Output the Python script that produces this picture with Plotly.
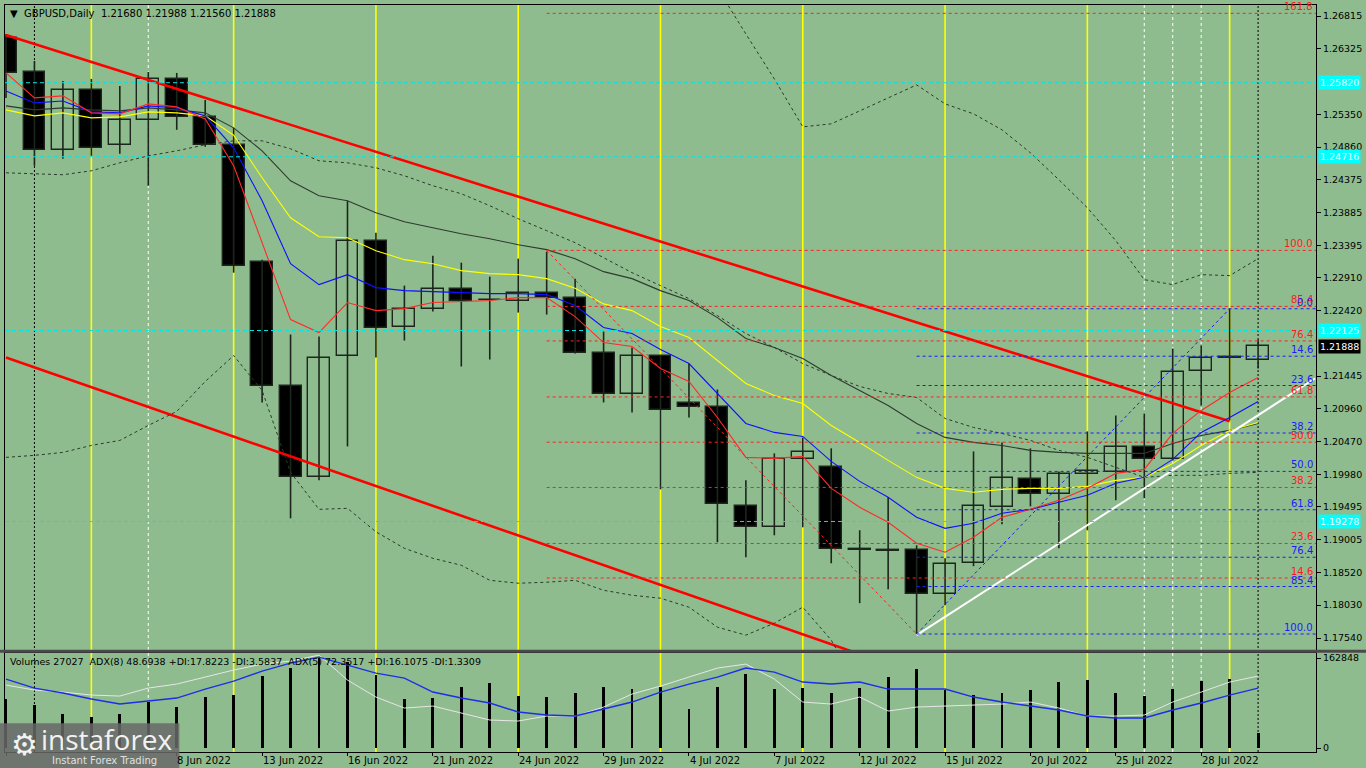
import plotly.graph_objects as go

# ---------------- data ----------------
dates = ["31 May 2022","1 Jun 2022","2 Jun 2022","3 Jun 2022","6 Jun 2022","7 Jun 2022","8 Jun 2022",
         "9 Jun 2022","10 Jun 2022","13 Jun 2022","14 Jun 2022","15 Jun 2022","16 Jun 2022","17 Jun 2022",
         "20 Jun 2022","21 Jun 2022","22 Jun 2022","23 Jun 2022","24 Jun 2022","27 Jun 2022","28 Jun 2022",
         "29 Jun 2022","30 Jun 2022","1 Jul 2022","4 Jul 2022","5 Jul 2022","6 Jul 2022","7 Jul 2022",
         "8 Jul 2022","11 Jul 2022","12 Jul 2022","13 Jul 2022","14 Jul 2022","15 Jul 2022","18 Jul 2022",
         "19 Jul 2022","20 Jul 2022","21 Jul 2022","22 Jul 2022","25 Jul 2022","26 Jul 2022","27 Jul 2022",
         "28 Jul 2022","29 Jul 2022","1 Aug 2022"]

opens = [1.26487,1.25981,1.24820,1.25713,1.24894,1.25266,1.25877,1.25311,1.24894,1.23152,
         1.21291,1.19936,1.21738,1.23465,1.22184,1.22452,1.22750,1.22580,1.22571,1.22690,
         1.22616,1.21797,1.21172,1.21738,1.21038,1.20978,1.19504,1.19191,1.20204,1.20085,
         1.18864,1.18849,1.18849,1.18194,1.18655,1.19489,1.19906,1.19683,1.19981,1.20010,
         1.20383,1.20204,1.21529,1.21723,1.21680]
highs = [1.26547,1.26145,1.25847,1.25877,1.25773,1.25981,1.25966,1.25564,1.25147,1.23182,
         1.22065,1.22035,1.24060,1.23584,1.22795,1.23241,1.23137,1.22929,1.23197,1.23301,
         1.22899,1.22110,1.21872,1.21752,1.21633,1.21246,1.19891,1.20293,1.20531,1.20368,
         1.19147,1.19638,1.18923,1.18729,1.20323,1.20457,1.20368,1.20025,1.20621,1.20859,
         1.20889,1.21857,1.21901,1.22450,1.21988]
lows = [1.25594,1.24582,1.24686,1.24730,1.24760,1.24284,1.25118,1.24864,1.22988,1.21053,
        1.19325,1.19891,1.20397,1.21723,1.21976,1.22408,1.21589,1.21693,1.22393,1.22363,
        1.21782,1.21053,1.20904,1.19757,1.20829,1.18968,1.18744,1.19072,1.19191,1.18655,
        1.18060,1.18268,1.17600,1.18030,1.18611,1.19236,1.19504,1.18878,1.19147,1.19593,
        1.19623,1.20189,1.21008,1.20785,1.21560]
closes = [1.25966,1.24820,1.25713,1.24850,1.25266,1.25877,1.25311,1.24894,1.23093,1.21291,
          1.19936,1.21723,1.23465,1.22169,1.22452,1.22750,1.22571,1.22575,1.22690,1.22616,
          1.21797,1.21172,1.21738,1.20933,1.20978,1.19534,1.19191,1.20204,1.20308,1.18864,
          1.18860,1.18845,1.18194,1.18640,1.19504,1.19921,1.19683,1.19981,1.20025,1.20383,
          1.20204,1.21514,1.21723,1.21720,1.21888]
volumes = [88600,77800,61500,56100,61500,83200,74200,92300,95900,130300,
           144700,162848,155600,132100,88700,90500,110400,117600,94100,92300,
           99500,110400,106800,110400,70600,110400,133900,106800,108600,99500,
           108600,128500,142900,104900,95900,99500,104900,119400,123000,99500,
           94100,106800,121200,124900,27027]

ma_red = [1.25966,1.25594,1.25624,1.25371,1.25356,1.25505,1.25460,1.25281,1.24582,1.23420,
          1.22288,1.22095,1.22542,1.22422,1.22452,1.22542,1.22557,1.22572,1.22616,1.22616,
          1.22333,1.21946,1.21886,1.21559,1.21365,1.20829,1.20234,1.20219,1.20249,1.19772,
          1.19489,1.19266,1.18953,1.18819,1.19042,1.19340,1.19459,1.19593,1.19772,1.19995,
          1.20055,1.20591,1.20934,1.21202,1.21425]
ma_blue = [1.25698,1.25519,1.25548,1.25386,1.25371,1.25475,1.25445,1.25326,1.24850,1.24060,
           1.23122,1.22810,1.22958,1.22765,1.22720,1.22705,1.22690,1.22676,1.22676,1.22661,
           1.22497,1.22170,1.22080,1.21842,1.21633,1.21186,1.20740,1.20606,1.20546,1.20174,
           1.19876,1.19638,1.19340,1.19176,1.19251,1.19400,1.19459,1.19564,1.19668,1.19847,
           1.19936,1.20204,1.20606,1.20829,1.21067]
ma_yellow = [1.25415,1.25326,1.25371,1.25296,1.25311,1.25386,1.25371,1.25326,1.25038,1.24403,
             1.23807,1.23524,1.23509,1.23316,1.23182,1.23122,1.23018,1.22973,1.22958,1.22899,
             1.22755,1.22522,1.22422,1.22184,1.22021,1.21678,1.21336,1.21157,1.21038,1.20710,
             1.20457,1.20189,1.19936,1.19772,1.19713,1.19757,1.19772,1.19772,1.19802,1.19891,
             1.19936,1.20144,1.20412,1.20636,1.20755]
ma_dark = [1.25475,1.25415,1.25445,1.25415,1.25400,1.25445,1.25415,1.25371,1.25147,1.24805,
           1.24358,1.24135,1.24060,1.23882,1.23747,1.23658,1.23569,1.23494,1.23405,1.23331,
           1.23196,1.23003,1.22899,1.22720,1.22572,1.22318,1.22006,1.21872,1.21708,1.21455,
           1.21231,1.21008,1.20740,1.20532,1.20457,1.20412,1.20338,1.20308,1.20293,1.20293,
           1.20293,1.20442,1.20561,1.20636,1.20740]
bb_mid = [1.24477,1.24462,1.24448,1.24507,1.24626,1.24730,1.24805,1.24894,1.24954,1.24954,
          1.24835,1.24656,1.24626,1.24552,1.24433,1.24284,1.24165,1.23986,1.23792,1.23614,
          1.23435,1.23211,1.22988,1.22795,1.22601,1.22348,1.22080,1.21872,1.21633,1.21455,
          1.21291,1.21186,1.21127,1.20814,1.20680,1.20591,1.20487,1.20338,1.20234,1.20085,
          1.19936,1.19966,1.19966,1.19995,1.20010]
bb_upper_start = 24
bb_upper = [1.27634,1.27230,1.26547,1.25877,1.25162,1.25207,1.25400,1.25594,1.25788,1.25505,
            1.25356,1.25118,1.24775,1.24373,1.23956,1.23465,1.22884,1.22810,1.22958,1.22944,
            1.23196]
bb_lower = [1.20234,1.20264,1.20308,1.20412,1.20487,1.20710,1.20919,1.21365,1.21752,1.21231,
            1.20010,1.19459,1.19474,1.19124,1.18878,1.18729,1.18625,1.18401,1.18357,1.18372,
            1.18401,1.18252,1.18178,1.18134,1.18000,1.17702,1.17583,1.17761,1.18000,1.17509,
            1.16764]
adx8 = [61,52,47,41,36,39,42,51,59,69,77,83,75,67,62,48,42,37,28,25,
        24,31,38,48,56,63,72,68,58,56,58,51,51,51,43,38,34,30,24,22,
        22,30,37,45,52]
adx5 = [55,50,48,45,44,52,56,63,70,76,79,85,60,43,32,34,27,20,19,24,
        24,33,46,54,63,72,76,61,38,36,43,29,33,34,35,36,38,32,24,24,
        25,38,48,58,64]

price_ticks = [1.26815,1.26325,1.25350,1.24860,1.24375,1.23885,1.23395,1.22910,1.22420,
               1.21445,1.20960,1.20470,1.19980,1.19495,1.19005,1.18520,1.18030,1.17540]
cyan_levels = [1.25820, 1.24716, 1.22125, 1.19278]
last_price = 1.21888

# trend lines (bar index, price)
chan_upper = ([0, 43], [1.26532, 1.20774])
chan_lower = ([0, 30], [1.21723, 1.17300])
white_line = ([32, 46], [1.17583, 1.21410])

red_fib_hi, red_fib_lo = (19, 1.23320), (32, 1.17600)
red_fib_ratios = [0.146, 0.236, 0.382, 0.5, 0.618, 0.764, 0.854, 1.0, 1.618]
blue_fib_hi, blue_fib_lo = (43, 1.22450), (32, 1.17600)
blue_fib_ratios = [0.0, 0.146, 0.236, 0.382, 0.5, 0.618, 0.764, 0.854, 1.0]

yellow_vlines = [3, 8, 13, 18, 23, 28, 33, 38, 43]
black_vlines = [1, 44]
white_vlines = [5, 40, 41, 42]
date_label_idx = [0, 6, 9, 12, 15, 18, 21, 24, 27, 30, 33, 36, 39, 42]

# ---------------- figure ----------------
BG = "#8FBC8F"
FONT = "DejaVu Sans"
n = len(dates)
idx = list(range(n))
XR = [-0.035, 46.035]

fig = go.Figure()

# wicks
wx, wy = [], []
for i in idx:
    wx += [i, i, None]
    wy += [lows[i], highs[i], None]
fig.add_trace(go.Scatter(x=wx, y=wy, mode="lines", line=dict(color="#1c261c", width=1.6),
                         hoverinfo="skip", xaxis="x", yaxis="y"))

# bodies
base = [min(o, c) for o, c in zip(opens, closes)]
height = [max(abs(c - o), 0.00005) for o, c in zip(opens, closes)]
fills = ["#000000" if c < o else BG for o, c in zip(opens, closes)]
fig.add_trace(go.Bar(x=idx, y=height, base=base, width=0.77,
                     marker=dict(color=fills, line=dict(color="#1c261c", width=1.4)),
                     hoverinfo="skip", xaxis="x", yaxis="y"))

# channel lines
fig.add_trace(go.Scatter(x=chan_upper[0], y=chan_upper[1], mode="lines",
                         line=dict(color="#ff0000", width=2.6), xaxis="x", yaxis="y"))
fig.add_trace(go.Scatter(x=chan_lower[0], y=chan_lower[1], mode="lines",
                         line=dict(color="#ff0000", width=2.6), xaxis="x", yaxis="y"))

# Bollinger-like dashed bands
fig.add_trace(go.Scatter(x=idx, y=bb_mid, mode="lines",
                         line=dict(color="#2a3a2a", width=1, dash="3px,3px"), xaxis="x", yaxis="y"))
fig.add_trace(go.Scatter(x=list(range(bb_upper_start, bb_upper_start + len(bb_upper))), y=bb_upper,
                         mode="lines", line=dict(color="#2a3a2a", width=1, dash="3px,3px"),
                         xaxis="x", yaxis="y"))
fig.add_trace(go.Scatter(x=list(range(len(bb_lower))), y=bb_lower, mode="lines",
                         line=dict(color="#2a3a2a", width=1, dash="3px,3px"), xaxis="x", yaxis="y"))

# moving averages
fig.add_trace(go.Scatter(x=idx, y=ma_dark, mode="lines", line=dict(color="#2e3a2e", width=1.1),
                         xaxis="x", yaxis="y"))
fig.add_trace(go.Scatter(x=idx, y=ma_yellow, mode="lines", line=dict(color="#ffff00", width=1.1),
                         xaxis="x", yaxis="y"))
fig.add_trace(go.Scatter(x=idx, y=ma_blue, mode="lines", line=dict(color="#1010ff", width=1.1),
                         xaxis="x", yaxis="y"))
fig.add_trace(go.Scatter(x=idx, y=ma_red, mode="lines", line=dict(color="#ff2a2a", width=1.1),
                         xaxis="x", yaxis="y"))

# fib trend diagonals
fig.add_trace(go.Scatter(x=[red_fib_hi[0], red_fib_lo[0]], y=[red_fib_hi[1], red_fib_lo[1]],
                         mode="lines", line=dict(color="#ff2020", width=1, dash="3px,3px"),
                         xaxis="x", yaxis="y"))
fig.add_trace(go.Scatter(x=[blue_fib_lo[0], blue_fib_hi[0]], y=[blue_fib_lo[1], blue_fib_hi[1]],
                         mode="lines", line=dict(color="#1a1aff", width=1, dash="3px,3px"),
                         xaxis="x", yaxis="y"))

# white trend line
fig.add_trace(go.Scatter(x=white_line[0], y=white_line[1], mode="lines",
                         line=dict(color="#ffffff", width=2), xaxis="x", yaxis="y"))

# volume panel
fig.add_trace(go.Bar(x=idx, y=volumes, width=0.1, marker=dict(color="#000000", line=dict(width=0)),
                     hoverinfo="skip", xaxis="x2", yaxis="y2"))
fig.add_trace(go.Scatter(x=idx, y=adx5, mode="lines", line=dict(color="#e6e6e6", width=1),
                         xaxis="x2", yaxis="y3"))
fig.add_trace(go.Scatter(x=idx, y=adx8, mode="lines", line=dict(color="#1e2ee6", width=1.4),
                         xaxis="x2", yaxis="y3"))

shapes = []
annotations = []

# vertical lines
for v in yellow_vlines:
    shapes.append(dict(type="line", xref="x", yref="paper", x0=v, x1=v, y0=0, y1=1,
                       line=dict(color="#ffff00", width=1.6), layer="below"))
for v in black_vlines:
    shapes.append(dict(type="line", xref="x", yref="paper", x0=v, x1=v, y0=0, y1=1,
                       line=dict(color="#000000", width=1, dash="2px,2px"), layer="below"))
for v in white_vlines:
    shapes.append(dict(type="line", xref="x", yref="paper", x0=v, x1=v, y0=0, y1=1,
                       line=dict(color="#ffffff", width=1, dash="3px,3px"), layer="below"))

# cyan levels
for lv in cyan_levels:
    shapes.append(dict(type="line", xref="x", yref="y", x0=XR[0], x1=XR[1], y0=lv, y1=lv,
                       line=dict(color="#00e5e5", width=1, dash="4px,3px"), layer="above"))
    annotations.append(dict(xref="paper", yref="y", x=1.0015, y=lv, xanchor="left", yanchor="middle",
                            text=f"{lv:.5f}", showarrow=False, bgcolor="#00ffff", borderpad=1,
                            font=dict(family=FONT, size=9.5, color="#e8ffff")))

# red fib levels
rng = red_fib_hi[1] - red_fib_lo[1]
for r in red_fib_ratios:
    lv = red_fib_lo[1] + r * rng
    shapes.append(dict(type="line", xref="x", yref="y", x0=red_fib_hi[0], x1=XR[1], y0=lv, y1=lv,
                       line=dict(color="#ff2020", width=1, dash="3px,3px"), layer="above"))
    annotations.append(dict(xref="x", yref="y", x=45.97, y=lv, xanchor="right", yanchor="bottom",
                            text=f"{r*100:.1f}", showarrow=False, borderpad=0,
                            font=dict(family=FONT, size=10, color="#ff1a1a")))

# blue fib levels
rng = blue_fib_hi[1] - blue_fib_lo[1]
for r in blue_fib_ratios:
    lv = blue_fib_hi[1] - r * rng
    shapes.append(dict(type="line", xref="x", yref="y", x0=blue_fib_lo[0], x1=XR[1], y0=lv, y1=lv,
                       line=dict(color="#1a1aff", width=1, dash="3px,3px"), layer="above"))
    annotations.append(dict(xref="x", yref="y", x=45.97, y=lv, xanchor="right", yanchor="bottom",
                            text=f"{r*100:.1f}", showarrow=False, borderpad=0,
                            font=dict(family=FONT, size=10, color="#1a1aff")))

# last price label
annotations.append(dict(xref="paper", yref="y", x=1.0015, y=last_price, xanchor="left", yanchor="middle",
                        text=f"{last_price:.5f}", showarrow=False, bgcolor="#000000", borderpad=1,
                        font=dict(family=FONT, size=9.5, color="#ffffff")))

# panel separator
shapes.append(dict(type="line", xref="paper", yref="paper", x0=-0.004, x1=1.04, y0=0.1348, y1=0.1348,
                   line=dict(color="#4a4a4a", width=3), layer="above"))

# title texts
annotations.append(dict(xref="paper", yref="paper", x=0.002, y=0.999, xanchor="left", yanchor="top",
                        text="▼  GBPUSD,Daily  1.21680 1.21988 1.21560 1.21888", showarrow=False,
                        font=dict(family=FONT, size=10, color="#000000")))
annotations.append(dict(xref="paper", yref="paper", x=0.002, y=0.1318, xanchor="left", yanchor="top",
                        text="Volumes 27027  ADX(8) 48.6938 +DI:17.8223 -DI:3.5837  ADX(5) 72.3517 +DI:16.1075 -DI:1.3309",
                        showarrow=False, font=dict(family=FONT, size=9.5, color="#000000")))

# date labels
for i in date_label_idx:
    annotations.append(dict(xref="x2", yref="paper", x=i - 0.05, y=0, xanchor="left", yanchor="top",
                            text=dates[i], showarrow=False, yshift=-1,
                            font=dict(family=FONT, size=10, color="#000000")))

# instaforex logo
shapes.append(dict(type="rect", xref="paper", yref="paper", x0=-0.005, x1=0.133, y0=-0.03, y1=0.0385,
                   fillcolor="rgba(105,105,105,0.85)", line=dict(width=0), layer="above"))
annotations.append(dict(xref="paper", yref="paper", x=0.003, y=0.010, xanchor="left", yanchor="middle",
                        text="⚙", showarrow=False, font=dict(family=FONT, size=30, color="#f2f2f2")))
annotations.append(dict(xref="paper", yref="paper", x=0.026, y=0.017, xanchor="left", yanchor="middle",
                        text="instaforex", showarrow=False, font=dict(family="Open Sans", size=28, color="#f2f2f2")))
annotations.append(dict(xref="paper", yref="paper", x=0.034, y=-0.012, xanchor="left", yanchor="middle",
                        text="Instant Forex Trading", showarrow=False,
                        font=dict(family=FONT, size=10, color="#e0e0e0")))

fig.update_layout(
    width=1366, height=768,
    margin=dict(l=5, r=48, t=4, b=16),
    paper_bgcolor=BG, plot_bgcolor=BG,
    showlegend=False, barmode="overlay", bargap=0,
    shapes=shapes, annotations=annotations,
    xaxis=dict(domain=[0, 1], range=XR, anchor="y", showticklabels=False, showgrid=False,
               zeroline=False, showline=True, mirror=True, linecolor="#000000", linewidth=1, ticks=""),
    yaxis=dict(domain=[0.1364, 1], range=[1.17360, 1.26979], anchor="x", side="right",
               tickvals=price_ticks, ticktext=[f"{v:.5f}" for v in price_ticks],
               ticks="outside", ticklen=4, tickcolor="#000000", showgrid=False, zeroline=False,
               showline=True, mirror=True, linecolor="#000000", linewidth=1,
               tickfont=dict(family=FONT, size=9.5, color="#000000")),
    xaxis2=dict(domain=[0, 1], range=XR, anchor="y2", showticklabels=False, showgrid=False,
                zeroline=False, showline=True, mirror=True, linecolor="#000000", linewidth=1,
                tickvals=date_label_idx, ticks="outside", ticklen=3, tickcolor="#000000"),
    yaxis2=dict(domain=[0, 0.1324], range=[-7236, 171893], anchor="x2", side="right",
                tickvals=[0, 162848], ticktext=["0", "162848"], ticks="outside", ticklen=4,
                tickcolor="#000000", showgrid=False, zeroline=False, showline=True, mirror=True,
                linecolor="#000000", linewidth=1, tickfont=dict(family=FONT, size=9.5, color="#000000")),
    yaxis3=dict(overlaying="y2", range=[-12, 87], visible=False, anchor="x2"),
)

fig.write_html("out.html", config={"displayModeBar": False},
               post_script="document.body.style.margin='0px';document.body.style.overflow='hidden';")
